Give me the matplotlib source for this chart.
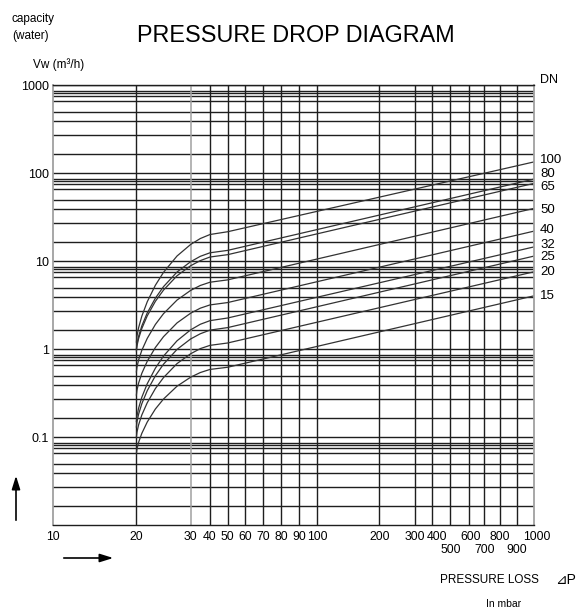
import numpy as np
import matplotlib.pyplot as plt
from matplotlib.transforms import offset_copy

plt.rcParams['font.family'] = ['Liberation Sans', 'DejaVu Sans']

# pressure loss (mbar) where the curves were read
pressure = [20, 20.1, 20.4, 21, 22, 23.5, 25, 27.5, 30, 35, 40, 50, 1000]

# water capacity Vw (m3/h) for each DN
dn100 = [1.2, 1.39, 1.74, 2.36, 3.44, 5.30, 7.43, 11.4, 15.4, 18.0, 20.0, 21.5, 134]
dn80 = [1.0, 1.14, 1.39, 1.83, 2.57, 3.78, 5.11, 7.50, 9.81, 11.3, 12.4, 13.2, 85.5]
dn65 = [0.95, 1.08, 1.31, 1.71, 2.38, 3.48, 4.67, 6.80, 8.83, 10.1, 11.1, 11.8, 76.4]
dn50 = [0.55, 0.621, 0.748, 0.966, 1.32, 1.90, 2.52, 3.60, 4.63, 5.27, 5.74, 6.1, 39.7]
dn40 = [0.3, 0.339, 0.409, 0.529, 0.725, 1.04, 1.38, 1.98, 2.55, 2.91, 3.17, 3.37, 21.9]
dn32 = [0.15, 0.172, 0.212, 0.283, 0.403, 0.605, 0.831, 1.24, 1.65, 1.91, 2.10, 2.25, 14.5]
dn25 = [0.13, 0.148, 0.181, 0.239, 0.336, 0.496, 0.672, 0.990, 1.30, 1.49, 1.64, 1.75, 11.4]
dn20 = [0.1, 0.113, 0.137, 0.178, 0.245, 0.355, 0.473, 0.683, 0.882, 1.01, 1.10, 1.17, 7.56]
dn15 = [0.065, 0.0729, 0.0868, 0.110, 0.148, 0.208, 0.270, 0.378, 0.478, 0.540, 0.586, 0.62, 4.03]

dn_labels = ['100', '80', '65', '50', '40', '32', '25', '20', '15']
dn_series = [dn100, dn80, dn65, dn50, dn40, dn32, dn25, dn20, dn15]
# label heights (fig pixels from top) next to the right border
dn_label_y = [160, 174, 187, 210, 230, 245, 257, 272, 296]

# the x axis of the original is hand drawn, not a true log scale
x_ticks = [10, 20, 30, 40, 50, 60, 70, 80, 90, 100, 200, 300, 400, 500, 600, 700, 800, 900, 1000]
x_px = [53, 136.4, 190.6, 210, 227.6, 245.5, 263.5, 281.4, 299, 316.9,
        379.3, 414.8, 431.6, 450.3, 468.6, 484.3, 500, 516.8, 534.4]
x_labels = ['10', '20', '30', '40', '50', '60', '70', '80', '90', '100',
            '200', '300', '400', '500', '600', '700', '800', '900', '1000']
second_row = ['500', '700', '900']
label_shift = {'400': 5, '600': 2, '1000': 2}

y_ticks = [0.1, 1, 10, 100, 1000]
y_labels = ['0.1', '1', '10', '100', '1000']
decades = [0.01, 0.1, 1, 10, 100]
grid_steps = [1.64, 2.70, 3.93, 4.97, 6.53, 7.50, 8.05, 8.61]

W, H = 586, 613


def fwd(x):
    return np.interp(x, x_ticks, x_px)


def inv(p):
    return np.interp(p, x_px, x_ticks)


def fig_xy(x, y):
    return x / W, 1 - y / H


fig = plt.figure(figsize=(W / 100, H / 100), dpi=100)
ax = fig.add_axes([53 / W, 1 - 525 / H, (534.4 - 53) / W, (525 - 85) / H])
ax.set_xscale('function', functions=(fwd, inv))
ax.set_yscale('log')
ax.set_xlim(10, 1000)
ax.set_ylim(0.01, 1000)

dark = '#1e1e1e'
grey = '#a0a0a0'

for d in decades:
    for s in [1] + grid_steps:
        v = d * s
        if 0.01 < v < 1000:
            ax.axhline(v, color=dark, lw=1.0, zorder=1)
ax.axhline(1000, color=dark, lw=1.0, zorder=1)

for xv in x_ticks[1:-1]:
    ax.axvline(xv, color=grey if xv == 30 else dark, lw=1.1 if xv == 30 else 1.0, zorder=1)

for vals in dn_series:
    ax.plot(pressure, vals, color='#333333', lw=0.9, zorder=2)

for sp in ['top', 'bottom']:
    ax.spines[sp].set_color(dark)
    ax.spines[sp].set_linewidth(1.0)
for sp in ['left', 'right']:
    ax.spines[sp].set_color(grey)
    ax.spines[sp].set_linewidth(1.3)

ax.set_xticks(x_ticks)
ax.set_xticklabels([])
ax.xaxis.set_minor_locator(plt.NullLocator())
ax.set_yticks(y_ticks)
ax.set_yticklabels(y_labels, fontsize=9)
ax.yaxis.set_minor_locator(plt.NullLocator())
ax.tick_params(axis='both', length=0)
ax.tick_params(axis='y', pad=3)

# x tick labels, three of them on a second row as in the original
for xv, lab in zip(x_ticks, x_labels):
    drop = 25 if lab in second_row else 12
    tr = offset_copy(ax.get_xaxis_transform(), fig=fig,
                     x=label_shift.get(lab, 0), y=-drop, units='dots')
    ax.text(xv, 0, lab, transform=tr, fontsize=8.8, ha='center', va='center')

for lab, yy in zip(dn_labels, dn_label_y):
    fig.text(*fig_xy(540, yy), lab, fontsize=9.5, va='center', ha='left')
fig.text(*fig_xy(540, 80), 'DN', fontsize=9, va='center', ha='left')

fig.text(*fig_xy(12, 19), 'capacity', fontsize=8.5, va='center', ha='left')
fig.text(*fig_xy(12, 36), '(water)', fontsize=8.5, va='center', ha='left')
fig.text(*fig_xy(137, 35), 'PRESSURE DROP DIAGRAM', fontsize=16.8, va='center', ha='left')
fig.text(*fig_xy(33, 65), 'Vw (m³/h)', fontsize=8.5, va='center', ha='left')

fig.text(*fig_xy(440, 580), 'PRESSURE LOSS', fontsize=8.5, va='center', ha='left')
fig.text(*fig_xy(555, 580), '⊿P', fontsize=10, va='center', ha='left')
fig.text(*fig_xy(486, 604), 'In mbar', fontsize=7.5, va='center', ha='left')

arrow = dict(arrowstyle='-|>,head_length=0.8,head_width=0.25', color='black', lw=1.2)
ax.annotate('', xy=fig_xy(16, 473), xytext=fig_xy(16, 523),
            xycoords='figure fraction', textcoords='figure fraction', arrowprops=arrow)
ax.annotate('', xy=fig_xy(116, 558), xytext=fig_xy(61, 558),
            xycoords='figure fraction', textcoords='figure fraction', arrowprops=arrow)

fig.savefig('out.png', dpi=100)
